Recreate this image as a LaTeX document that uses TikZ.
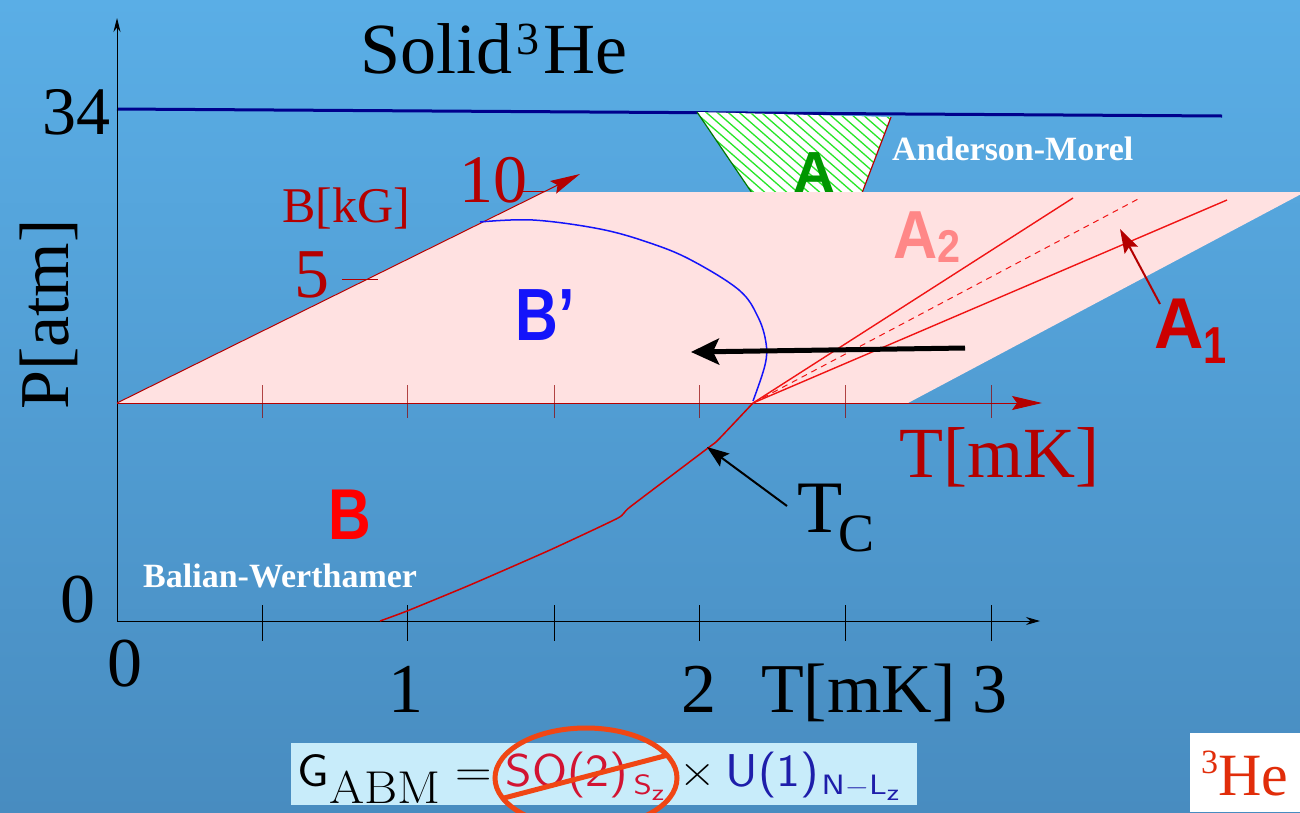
\documentclass[tikz,border=0pt]{standalone}
\usepackage{fontspec}
\newfontfamily\tnr{Liberation Serif}
\newfontfamily\hv{Liberation Sans}
\usetikzlibrary{arrows.meta}
\definecolor{bgtop}{RGB}{90,174,230}
\definecolor{bgbot}{RGB}{72,140,192}
\definecolor{plane}{RGB}{255,225,225}
\definecolor{dred}{RGB}{180,0,0}
\definecolor{lred}{RGB}{240,20,20}
\definecolor{navy}{RGB}{0,0,140}
\definecolor{hatch}{RGB}{40,230,40}
\definecolor{agreen}{RGB}{0,150,0}
\definecolor{salmon}{RGB}{255,135,135}
\definecolor{soRed}{RGB}{210,20,50}
\definecolor{uBlue}{RGB}{30,30,170}
\definecolor{boxbg}{RGB}{200,236,250}
\definecolor{ring}{RGB}{240,70,20}
\definecolor{heRed}{RGB}{225,45,10}
\definecolor{bprime}{RGB}{20,20,250}
\newcommand\fs[1]{\fontsize{#1}{#1}\selectfont}
\newcommand\putat[2]{\makebox[0pt][l]{\hspace*{#1}#2}}
\newcommand\subx[2]{\raisebox{#1}{\scalebox{1.25}[1]{#2}}}
\newcommand\wide[1]{\scalebox{1.1}[1]{#1}}
\begin{document}
\begin{tikzpicture}[x=1pt,y=-1pt,
  axis/.style={black,line width=0.9pt},
  raxis/.style={dred,line width=1pt},
  btick/.style={black,line width=0.8pt},
  rtick/.style={dred!80!black,line width=0.7pt,opacity=0.7},
  fan/.style={lred,line width=1.4pt},
  lbl/.style={inner sep=0pt},
]
\useasboundingbox (0,0) rectangle (1300,812);
\fill[top color=bgtop,bottom color=bgbot] (0,0) rectangle (1300,812);

% coordinates
\coordinate (O) at (117,621);
\coordinate (Ytop) at (117,18);
\coordinate (Xend) at (1040,621);
\coordinate (P0) at (117,403);
\coordinate (Pend) at (1042,403);
\coordinate (Bend) at (580,174);
\coordinate (Tc) at (753,403);

% solid line at 34 atm
\coordinate (S1) at (117,109);
\coordinate (S2) at (1222,116);
\draw[navy,line width=3pt] (S1) -- (S2);

% A-phase hatched region
\begin{scope}
  \clip (697,112) -- (891,117) -- (862,193) -- (752,193) -- cycle;
  \fill[white] (690,100) rectangle (900,200);
  \foreach \i in {560,571,...,900} \draw[hatch,line width=1.3pt] (\i,100) -- ++(110,96);
\end{scope}
\draw[agreen!80!black,line width=1.2pt] (697,112) -- (752,193);
\draw[dred,line width=1.2pt] (891,117) -- (862,193);
\node[lbl,anchor=base,agreen] (Alab) at (814,192) {\hv\bfseries\fs{58}A};

% pink plane
\fill[plane] (117,403) -- (543,192) -- (1305,192) -- (908,403) -- cycle;

% axes
\draw[axis,-{Stealth[length=14pt,width=7pt]}] (O) -- (Ytop);
\draw[axis,-{Stealth[length=14pt,width=8pt]}] (O) -- (Xend);
\foreach \x in {262,407,554,699,845,991} \draw[btick] (\x,605) -- (\x,641);

\draw[raxis,-{Stealth[length=30pt,width=14pt,inset=5pt]}] (P0) -- (Pend);
\draw[raxis,-{Stealth[length=30pt,width=14pt,inset=5pt]}] (P0) -- (Bend);
\foreach \x in {262,407,554,699,845,991} \draw[rtick] (\x,385) -- (\x,418);
\draw[dred,line width=0.8pt] (342,279) -- (378,279);
\draw[dred,line width=0.8pt] (520,191) -- (545,191);

% phase boundary curves
\draw[dred!60!red,line width=1.5pt] plot[smooth,tension=0.3] coordinates {(380,621) (407,611) (470,585) (550,550) (618,518) (630,507) (708,448) (718,440) (753,403)};
\draw[bprime,line width=1.5pt] plot[smooth,tension=0.6] coordinates {(480,222) (533,220) (600,229) (650,243) (691,260) (739,290) (758,317) (766,343) (765,365) (753,401)};
\coordinate (F1) at (1073,198);
\coordinate (F2) at (1140,198);
\coordinate (F3) at (1227,200);
\draw[fan] (Tc) -- (F1);
\draw[fan,line width=1pt,dash pattern=on 6pt off 5pt] (Tc) -- (F2);
\draw[fan] (Tc) -- (F3);

% arrows
\coordinate (BA1) at (965,348);
\coordinate (BA2) at (691,352);
\draw[black,line width=5pt,-{Stealth[length=28pt,width=26pt,inset=6pt]}] (BA1) -- (BA2);
\coordinate (T1) at (787,506);
\coordinate (T2) at (707,447);
\draw[black,line width=2pt,-{Stealth[length=22pt,width=16pt,inset=4pt]}] (T1) -- (T2);
\coordinate (A1t) at (1160,304);
\coordinate (A1h) at (1120,229);
\draw[dred,line width=2pt,-{Stealth[length=24pt,width=15pt,inset=4pt]}] (A1t) -- (A1h);

% texts
\node[lbl,anchor=base west] (solid) at (360,73) {\tnr\fs{72}Solid\hspace{4pt}\raisebox{19pt}{\fs{46}3}\hspace{4pt}He};
\node[lbl,anchor=base east] (p34) at (111,134) {\tnr\fs{68}34};
\node[lbl,anchor=base] (p0) at (78,622) {\tnr\fs{70}0};
\node[lbl,anchor=base west,rotate=90] (patm) at (68,410) {\tnr\fs{70}P[atm]};
\node[lbl,anchor=base] (t0) at (125,686) {\tnr\fs{70}0};
\node[lbl,anchor=base] (t1) at (406,712) {\tnr\fs{70}1};
\node[lbl,anchor=base] (t2) at (699,712) {\tnr\fs{70}2};
\node[lbl,anchor=base west] (tmk) at (761,712) {\tnr\fs{70}T[mK]};
\node[lbl,anchor=base] (t3) at (990,712) {\tnr\fs{70}3};

\node[lbl,anchor=base west,dred] (bkg) at (282,222) {\tnr\fs{50}B[kG]};
\node[lbl,anchor=base,dred] (five) at (312,297) {\tnr\fs{70}5};
\node[lbl,anchor=base west,dred] (ten) at (459,202) {\tnr\fs{68}10};
\node[lbl,anchor=base west,dred] (tmkr) at (899,477) {\tnr\fs{72}T[mK]};

\node[lbl,anchor=base west] (tcT) at (797,532) {\tnr\fs{74}T};
\node[lbl,anchor=base west] (tcC) at (838,551) {\tnr\fs{54}C};

\node[lbl,anchor=base west,white] (am) at (892,160) {\tnr\bfseries\fs{34}Anderson-Morel};
\node[lbl,anchor=base west,white] (bw) at (143,587) {\tnr\bfseries\fs{34}Balian-Werthamer};

\node[lbl,anchor=base west,salmon] (A2) at (893,258) {\hv\bfseries\scalebox{0.9}[1]{\fs{68}A}\raisebox{-4pt}{\fs{46}\scalebox{0.9}[1]{2}}};
\node[lbl,anchor=base west,red!80!black] (A1) at (1154,348) {\hv\bfseries\scalebox{0.95}[1]{\fs{72}A}\raisebox{-15pt}{\fs{52}\scalebox{0.8}[1]{1}}};
\node[lbl,anchor=base,bprime] (Bp) at (545,340) {\hv\bfseries\scalebox{0.8}[1]{\fs{74}B’}};
\node[lbl,anchor=base,red] (Bl) at (350,539) {\hv\bfseries\scalebox{0.82}[1]{\fs{72}B}};

% formula box
\fill[boxbg] (291,743) rectangle (917,805);
\node[lbl,anchor=base west] (formula) at (297,786) {\fs{46}\sffamily
  \putat{0pt}{\wide{G}}%
  \putat{32pt}{\raisebox{-17pt}{\rmfamily\fs{46}\wide{ABM}}}%
  \putat{158pt}{\rmfamily\wide{=}}%
  \putat{208pt}{\textcolor{soRed}{\wide{SO(2)}}}%
  \putat{336pt}{\textcolor{soRed}{\fs{28}\subx{-8pt}{S}\subx{-14pt}{\fs{24}z}}}%
  \putat{382pt}{\rmfamily\wide{×}}%
  \putat{428pt}{\textcolor{uBlue}{\wide{U(1)}}}%
  \putat{524pt}{\textcolor{uBlue}{\fs{28}\subx{-8pt}{N$-$L}\subx{-14pt}{\fs{24}z}}}%
};
\coordinate (ringc) at (586,778);
\draw[ring,line width=5pt] (ringc) ellipse [x radius=91,y radius=50];
\coordinate (sl1) at (504,798);
\coordinate (sl2) at (668,755);
\draw[ring,line width=5pt] (sl1) -- (sl2);

% 3He badge
\fill[white] (1190,733) rectangle (1300,812);
\node[lbl,anchor=base west,heRed] (he3) at (1201,795) {\tnr\fs{60}\raisebox{22pt}{\fs{34}3}He};
\end{tikzpicture}
\end{document}
